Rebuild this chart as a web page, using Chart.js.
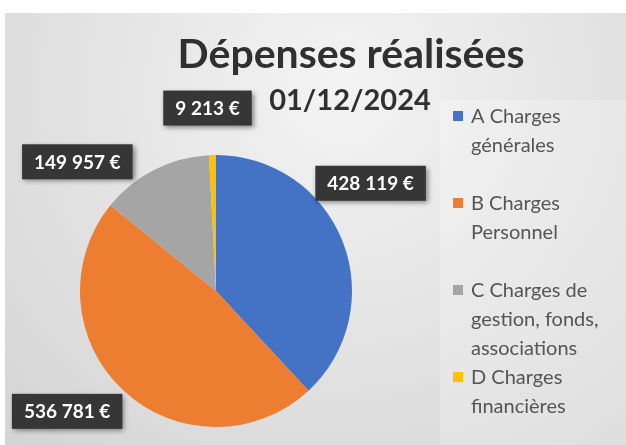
<!DOCTYPE html>
<html><head><meta charset="utf-8">
<script src="https://cdn.jsdelivr.net/npm/chart.js@4"></script>
<style>html,body{margin:0;padding:0;background:#fff}#c{display:block}</style>
</head><body>
<canvas id="c" width="626" height="445"></canvas>
<script>
const titleText = "Dépenses réalisées";
const subtitleText = "01/12/2024";
const categories = [["A Charges","générales"],["B Charges","Personnel"],["C Charges de","gestion, fonds,","associations"],["D Charges","financières"]];
const values = [428119, 536781, 149957, 9213];
const colors = ["#4472C4","#ED7D31","#A5A5A5","#FFC000"];

const fmt = v => v.toString().replace(/\B(?=(\d{3})+(?!\d))/g, "\u202F") + " €";
const labelOffsets = [[28,-58],[-56,21],[-77,-8],[-5,-47]];
const FONT = "Lato, 'Noto Sans', sans-serif";

const bgPlugin = {
  id: 'bg',
  beforeDraw(chart) {
    const ctx = chart.ctx, W = chart.width, H = chart.height;
    ctx.save();
    ctx.fillStyle = '#ffffff';
    ctx.fillRect(0, 0, W, H);
    const g = ctx.createRadialGradient(340, 90, 10, 340, 90, 520);
    g.addColorStop(0, '#f3f3f3');
    g.addColorStop(1, '#d2d2d2');
    ctx.fillStyle = g;
    ctx.fillRect(5, 13, W - 5, H - 13);
    ctx.fillStyle = 'rgba(255,255,255,0.22)';
    ctx.fillRect(440, 100, W - 440, H - 100);
    // title
    ctx.fillStyle = '#303030';
    ctx.textAlign = 'center';
    ctx.textBaseline = 'alphabetic';
    ctx.font = "bold 41px " + FONT;
    ctx.fillText(titleText, 351, 68);
    ctx.font = "bold 29px " + FONT;
    ctx.fillText(subtitleText, 350, 110);
    // legend
    ctx.textAlign = 'left';
    ctx.font = "20px " + FONT;
    const slot = 87, lh = 29, y0 = 123;
    categories.forEach((lines, i) => {
      const yb = y0 + i * slot;
      ctx.fillStyle = colors[i];
      ctx.fillRect(453, yb - 12, 10, 10);
      ctx.fillStyle = '#555555';
      lines.forEach((t, j) => ctx.fillText(t, 471, yb + j * lh));
    });
    ctx.restore();
  }
};

const labelPlugin = {
  id: 'vlabels',
  afterDatasetsDraw(chart) {
    const ctx = chart.ctx;
    const meta = chart.getDatasetMeta(0);
    ctx.save();
    ctx.font = "bold 19px " + FONT;
    ctx.textAlign = 'center';
    ctx.textBaseline = 'middle';
    meta.data.forEach((arc, i) => {
      const p = arc.getProps(['x','y','startAngle','endAngle','outerRadius'], true);
      const mid = (p.startAngle + p.endAngle) / 2;
      const cx = p.x + Math.cos(mid) * p.outerRadius + labelOffsets[i][0];
      const cy = p.y + Math.sin(mid) * p.outerRadius + labelOffsets[i][1];
      const txt = fmt(values[i]);
      const w = ctx.measureText(txt).width + 24, h = 35;
      ctx.shadowColor = 'rgba(0,0,0,0.45)';
      ctx.shadowBlur = 5;
      ctx.shadowOffsetX = 2;
      ctx.shadowOffsetY = 2;
      ctx.fillStyle = '#363636';
      ctx.fillRect(cx - w / 2, cy - h / 2, w, h);
      ctx.shadowColor = 'transparent';
      ctx.fillStyle = '#ffffff';
      ctx.fillText(txt, cx, cy + 1);
    });
    ctx.restore();
  }
};

new Chart(document.getElementById('c'), {
  type: 'pie',
  data: {
    labels: categories.map(l => l.join(' ')),
    datasets: [{ data: values, backgroundColor: colors, borderWidth: 0, hoverOffset: 0, offset: 0 }]
  },
  options: {
    responsive: false,
    animation: false,
    layout: { padding: { left: 80, right: 274, top: 155, bottom: 18 } },
    plugins: { legend: { display: false }, tooltip: { enabled: false }, title: { display: false } }
  },
  plugins: [bgPlugin, labelPlugin]
});
</script>
</body></html>
